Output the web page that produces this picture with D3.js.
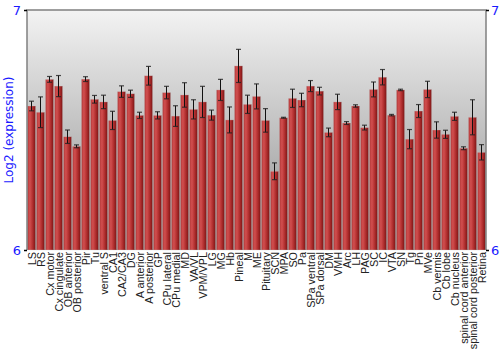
<!DOCTYPE html>
<html><head><meta charset="utf-8">
<script src="https://cdn.jsdelivr.net/npm/d3@7"></script>
<style>body{margin:0;background:#fff;}svg{display:block;font-family:"Liberation Sans",Arial,sans-serif;}</style>
</head><body><svg id="c" width="500" height="350"></svg>
<script>
const categories = ["LS","RS","Cx motor","Cx cingulate","OB anterior","OB posterior","Pir","Tu","ventral S","CA1","CA2/CA3","DG","A anterior","A posterior","GP","CPu lateral","CPu medial","MD","VA/VL","VPM/VPL","LG","MG","Hb","Pineal","M","ME","Pituitary","SCN","MPA","SO","Pa","SPa ventral","SPa dorsal","DM","VMH","Arc","LH","PAG","SC","IC","VTA","SN","Tg","Pn","MVe","Cb vermis","Cb lobe","Cb nucleus","spinal cord anterior","spinal cord posterior","Retina"];
const values = [6.600,6.574,6.711,6.683,6.472,6.432,6.712,6.628,6.617,6.540,6.660,6.651,6.561,6.726,6.561,6.656,6.558,6.646,6.586,6.617,6.562,6.667,6.542,6.767,6.607,6.640,6.540,6.328,6.551,6.632,6.625,6.683,6.662,6.490,6.617,6.529,6.600,6.510,6.669,6.720,6.562,6.667,6.462,6.579,6.669,6.500,6.482,6.557,6.424,6.553,6.407];
const errors = [0.020,0.064,0.012,0.044,0.028,0.006,0.010,0.016,0.028,0.038,0.024,0.015,0.013,0.039,0.015,0.026,0.043,0.051,0.040,0.065,0.021,0.044,0.054,0.069,0.038,0.052,0.049,0.035,0.002,0.038,0.028,0.023,0.016,0.018,0.032,0.006,0.005,0.010,0.031,0.032,0.003,0.003,0.040,0.027,0.034,0.034,0.017,0.017,0.006,0.073,0.032];
const yTicks = [6,7];
const yLabel = "Log2 (expression)";

const svg = d3.select("#c");
const L = 27, R = 486, T = 10, B = 250;
const x = d3.scaleBand().domain(categories).range([L, R]).paddingInner(0.1).paddingOuter(0.05);
const y = d3.scaleLinear().domain([6, 7]).range([B, T]);

const defs = svg.append("defs");
const bg = defs.append("linearGradient").attr("id","bg").attr("x1",0).attr("y1",0).attr("x2",0).attr("y2",1);
bg.append("stop").attr("offset","0%").attr("stop-color","#f3f3f3");
bg.append("stop").attr("offset","100%").attr("stop-color","#8e8e8e");
const bar = defs.append("linearGradient").attr("id","bar").attr("x1",0).attr("y1",0).attr("x2",1).attr("y2",0);
bar.append("stop").attr("offset","0%").attr("stop-color","#b03838");
bar.append("stop").attr("offset","30%").attr("stop-color","#d24f4f");
bar.append("stop").attr("offset","65%").attr("stop-color","#b02e2e");
bar.append("stop").attr("offset","100%").attr("stop-color","#7a1414");

svg.append("rect").attr("x",L).attr("y",T).attr("width",R-L).attr("height",B-T).attr("fill","url(#bg)");

svg.append("g").selectAll("rect").data(categories).join("rect")
  .attr("x", d => x(d))
  .attr("y", (d,i) => y(values[i]))
  .attr("width", x.bandwidth())
  .attr("height", (d,i) => B - y(values[i]))
  .attr("fill","url(#bar)")
  .attr("stroke","rgba(200,200,200,0.5)").attr("stroke-width",0.6);

const eg = svg.append("g");
categories.forEach((c,i) => {
  const cx = x(c) + x.bandwidth()/2;
  const y1 = y(values[i]+errors[i]), y2 = y(values[i]-errors[i]);
  eg.append("line").attr("x1",cx).attr("x2",cx).attr("y1",y1).attr("y2",y2).attr("stroke","#111").attr("stroke-width",1);
  [y1,y2].forEach(yy => eg.append("line").attr("x1",cx-2.5).attr("x2",cx+2.5).attr("y1",yy).attr("y2",yy).attr("stroke","#222").attr("stroke-width",1.2).attr("stroke-opacity",0.8));
});

// frame
svg.append("path").attr("d",`M${L},${B}V${T}H${R}V${B}`).attr("fill","none").attr("stroke","#808080").attr("stroke-width",1.5);

const yl = d3.axisLeft(y).tickValues(yTicks).tickSize(3).tickFormat(d3.format("d"));
const yr = d3.axisRight(y).tickValues(yTicks).tickSize(3).tickFormat(d3.format("d"));
const gl = svg.append("g").attr("transform",`translate(${L},0)`).call(yl);
const gr = svg.append("g").attr("transform",`translate(${R},0)`).call(yr);
[gl,gr].forEach(g => {
  g.select(".domain").remove();
  g.selectAll("line").attr("stroke","#000").attr("stroke-width",1.5);
  g.selectAll("text").attr("fill","#1a1aff").attr("font-size",13).attr("font-family","DejaVu Sans, sans-serif");
});
gl.selectAll("text").attr("x",-6);
gr.selectAll("text").attr("x",5);

svg.append("text").attr("transform",`translate(13,${(T+B)/2}) rotate(-90)`)
  .attr("text-anchor","middle").attr("fill","#1a1aff").attr("font-size",12).attr("font-family","DejaVu Sans, sans-serif").text(yLabel);

svg.append("g").selectAll("text").data(categories).join("text")
  .attr("transform", d => `translate(${x(d)+x.bandwidth()/2+4},${B+2}) rotate(-90)`)
  .attr("text-anchor","end").attr("font-size",10.8).attr("fill","#222").text(d => d);
</script></body></html>
